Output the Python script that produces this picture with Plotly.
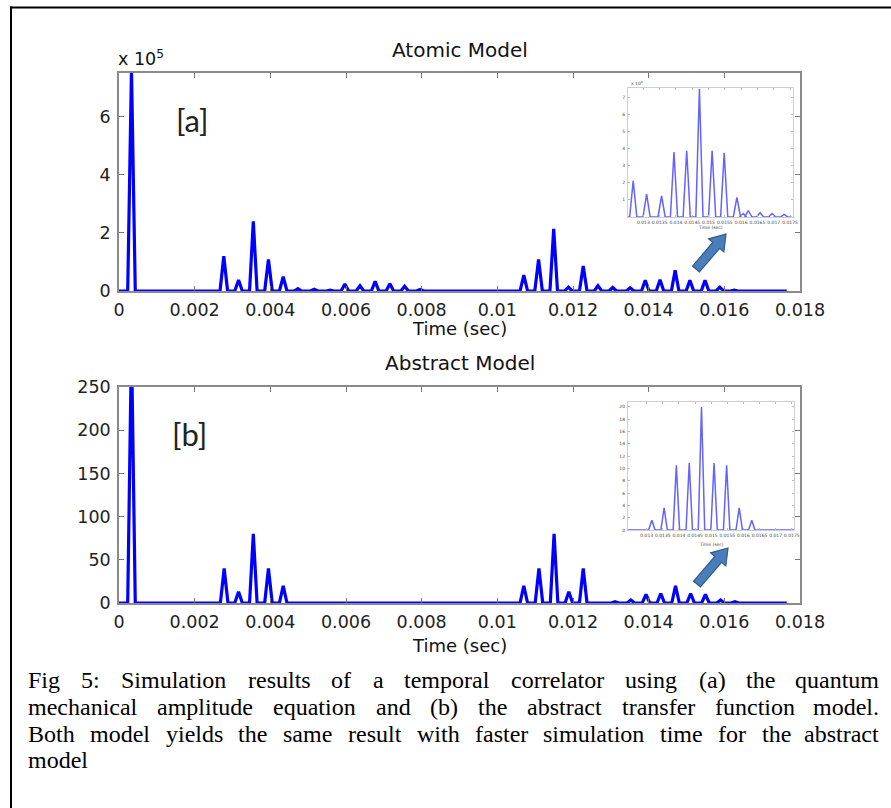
import plotly.graph_objects as go

# ---------------- data ----------------
atomic_peak_t = [0.00033, 0.00277, 0.00316, 0.00355, 0.00395, 0.00434, 0.00473, 0.00516,
                 0.00558, 0.00597, 0.00637, 0.00677, 0.00716, 0.00755, 0.00796,
                 0.01070, 0.01109, 0.01149, 0.01188, 0.01227, 0.01266, 0.01305, 0.01351,
                 0.01391, 0.01430, 0.01470, 0.01509, 0.01549, 0.01588, 0.01626, 0.01662,
                 0.01700, 0.01740]
atomic_peak_v = [7.6e5, 1.2e5, 0.38e5, 2.4e5, 1.09e5, 0.49e5, 0.08e5, 0.06e5,
                 0.03e5, 0.24e5, 0.18e5, 0.33e5, 0.25e5, 0.16e5, 0.05e5,
                 0.55e5, 1.09e5, 2.14e5, 0.13e5, 0.86e5, 0.18e5, 0.12e5, 0.11e5,
                 0.37e5, 0.39e5, 0.71e5, 0.37e5, 0.37e5, 0.13e5, 0.03e5, 0.02e5,
                 0.01e5, 0.01e5]

abstract_peak_t = [0.00033, 0.00278, 0.00316, 0.00355, 0.00395, 0.00434,
                   0.01070, 0.01110, 0.01150, 0.01189, 0.01227, 0.01311, 0.01353,
                   0.01393, 0.01432, 0.01471, 0.01511, 0.01550, 0.01590, 0.01628]
abstract_peak_v = [300, 40, 13, 80, 40, 20,
                   20, 40, 80, 13, 40, 1.5, 3.5,
                   10, 11, 20, 11, 10, 3.5, 1.5]

inset_a_t = [0.01269, 0.01310, 0.01356, 0.01394, 0.01433, 0.01472, 0.01511, 0.01548,
             0.01587, 0.01606, 0.01622, 0.01658, 0.01695, 0.01732]
inset_a_v = [2.12e4, 1.34e4, 1.23e4, 3.8e4, 3.88e4, 7.5e4, 3.88e4, 3.76e4,
             1.15e4, 0.2e4, 0.38e4, 0.25e4, 0.2e4, 0.15e4]

inset_b_t = [0.01316, 0.01354, 0.01392, 0.01432, 0.01470, 0.01509, 0.01548, 0.01587, 0.01626]
inset_b_v = [1.6, 3.6, 10.5, 10.9, 20, 10.9, 10.5, 3.6, 1.6]

main_x_ticks = [0, 0.002, 0.004, 0.006, 0.008, 0.010, 0.012, 0.014, 0.016, 0.018]
main_x_labels = ["0", "0.002", "0.004", "0.006", "0.008", "0.01", "0.012", "0.014", "0.016", "0.018"]
atomic_y_ticks = [0, 2e5, 4e5, 6e5]
atomic_y_labels = ["0", "2", "4", "6"]
abstract_y_ticks = [0, 50, 100, 150, 200, 250]
inset_x_ticks = [0.013, 0.0135, 0.014, 0.0145, 0.015, 0.0155, 0.016, 0.0165, 0.017, 0.0175]
inset_x_labels = ["0.013", "0.0135", "0.014", "0.0145", "0.015", "0.0155", "0.016", "0.0165", "0.017", "0.0175"]
inset_a_y_ticks = [1e4, 2e4, 3e4, 4e4, 5e4, 6e4, 7e4]
inset_a_y_labels = ["1", "2", "3", "4", "5", "6", "7"]
inset_b_y_ticks = [0, 2, 4, 6, 8, 10, 12, 14, 16, 18, 20]

caption_lines = [
    "Fig 5: Simulation results of a temporal correlator using (a) the quantum",
    "mechanical amplitude equation and (b) the abstract transfer function model.",
    "Both model yields the same result with faster simulation time for the abstract",
    "model",
]

# ---------------- helpers ----------------
W, H = 891, 808


def px(x):
    return x / W


def py(y):
    return 1 - y / H


def spikes(ts, vs, hw, t0, t1):
    xs, ys = [t0], [0]
    for t, v in zip(ts, vs):
        xs += [t - hw, t, t + hw]
        ys += [0, v, 0]
    xs.append(t1)
    ys.append(0)
    return xs, ys


fig = go.Figure()

xa, ya = spikes(atomic_peak_t, atomic_peak_v, 0.0001, 0.0, 0.01765)
fig.add_trace(go.Scatter(x=xa, y=ya, mode="lines", line=dict(color="#0000ff", width=3.2),
                         xaxis="x", yaxis="y", hoverinfo="skip"))
xb, yb = spikes(abstract_peak_t, abstract_peak_v, 0.0001, 0.0, 0.01765)
fig.add_trace(go.Scatter(x=xb, y=yb, mode="lines", line=dict(color="#0000ff", width=3.2),
                         xaxis="x2", yaxis="y2", hoverinfo="skip"))
xi, yi = spikes(inset_a_t, inset_a_v, 0.00011, 0.01253, 0.01755)
fig.add_trace(go.Scatter(x=xi, y=yi, mode="lines", line=dict(color="rgba(60,60,255,0.8)", width=1.5),
                         xaxis="x3", yaxis="y3", hoverinfo="skip"))
xj, yj = spikes(inset_b_t, inset_b_v, 0.0001, 0.01242, 0.01757)
fig.add_trace(go.Scatter(x=xj, y=yj, mode="lines", line=dict(color="rgba(60,60,255,0.8)", width=1.5),
                         xaxis="x4", yaxis="y4", hoverinfo="skip"))

tick_font = dict(family="DejaVu Sans", size=17.5, color="#222")
main_common = dict(ticks="inside", ticklen=5, tickcolor="#777", mirror="allticks",
                   showline=True, linecolor="#8a8a8a", linewidth=1.5, showgrid=False,
                   zeroline=False, tickfont=tick_font, automargin=False)
inset_common = dict(ticks="inside", ticklen=2, tickcolor="#bbb", mirror="allticks",
                    showline=True, linecolor="#cfcfcf", linewidth=1, showgrid=False,
                    zeroline=False, tickfont=dict(family="DejaVu Sans", size=4.5, color="#444"),
                    ticklabelstandoff=1, tickangle=0, automargin=False)

fig.update_layout(
    width=W, height=H, margin=dict(l=0, r=0, t=0, b=0, pad=0, autoexpand=False), autosize=False,
    paper_bgcolor="white", plot_bgcolor="white", showlegend=False,
    xaxis=dict(domain=[px(119), px(800)], anchor="y", range=[0, 0.018],
               tickvals=main_x_ticks, ticktext=main_x_labels, ticklabelstandoff=2, **main_common),
    yaxis=dict(domain=[py(291), py(73)], anchor="x", range=[0, 7.5e5],
               tickvals=atomic_y_ticks, ticktext=atomic_y_labels, ticklabelstandoff=3, **main_common),
    xaxis2=dict(domain=[px(119), px(800)], anchor="y2", range=[0, 0.018],
                tickvals=main_x_ticks, ticktext=main_x_labels, ticklabelstandoff=2, **main_common),
    yaxis2=dict(domain=[py(603), py(387)], anchor="x2", range=[0, 250],
                tickvals=abstract_y_ticks, ticklabelstandoff=3, **main_common),
    xaxis3=dict(domain=[px(628), px(793)], anchor="y3", range=[0.01253, 0.01759],
                tickvals=inset_x_ticks, ticktext=inset_x_labels, **inset_common),
    yaxis3=dict(domain=[py(217), py(88)], anchor="x3", range=[0, 7.55e4],
                tickvals=inset_a_y_ticks, ticktext=inset_a_y_labels, **inset_common),
    xaxis4=dict(domain=[px(628), px(794)], anchor="y4", range=[0.01242, 0.01757],
                tickvals=inset_x_ticks, ticktext=inset_x_labels, **inset_common),
    yaxis4=dict(domain=[py(530), py(402)], anchor="x4", range=[0, 20.8],
                tickvals=inset_b_y_ticks, **inset_common),
)

ann = []


def add_text(x, y, text, size, family="DejaVu Sans", xanchor="center", yanchor="middle", color="#111"):
    ann.append(dict(x=px(x), y=py(y), xref="paper", yref="paper", text=text, showarrow=False,
                    xanchor=xanchor, yanchor=yanchor, font=dict(family=family, size=size, color=color),
                    borderpad=0))


add_text(459.5, 50, "Atomic Model", 20)
add_text(459.5, 363, "Abstract Model", 20)
add_text(459.5, 328, "Time (sec)", 18)
add_text(459.5, 645, "Time (sec)", 18)
add_text(117, 70, "x 10<sup>5</sup>", 17.5, xanchor="left", yanchor="bottom")
add_text(192, 120, "[a]", 31, family="Lato", color="#222")
add_text(189, 434, "[b]", 31, family="Lato", color="#222")
add_text(630, 87, "x 10<sup>4</sup>", 4.5, xanchor="left", yanchor="bottom", color="#444")
add_text(710.5, 227, "Time (sec)", 4.5, color="#444")
add_text(711, 544, "Time (sec)", 4.5, color="#444")

# caption, justified word by word (Times metrics)
TW = {'a': 444, 'b': 500, 'c': 444, 'd': 500, 'e': 444, 'f': 333, 'g': 500, 'h': 500, 'i': 278,
      'j': 278, 'k': 500, 'l': 278, 'm': 778, 'n': 500, 'o': 500, 'p': 500, 'q': 500, 'r': 333,
      's': 389, 't': 278, 'u': 500, 'v': 500, 'w': 722, 'x': 500, 'y': 500, 'z': 444,
      'B': 667, 'F': 556, 'S': 556, ':': 278, '(': 333, ')': 333, '.': 250}
cap_size = 24
cap_left, cap_right = 27, 880
baselines = [688, 715, 742, 768]


def wwidth(w):
    return sum(TW.get(c, 500) for c in w) / 1000 * cap_size


for i, line in enumerate(caption_lines):
    yc = baselines[i] - 0.33 * cap_size
    words = line.split(" ")
    if i < 3:
        total = sum(wwidth(w) for w in words)
        gap = (cap_right - cap_left - total) / (len(words) - 1)
        x = cap_left
        for j, w in enumerate(words):
            if j == len(words) - 1:
                add_text(cap_right, yc, w, cap_size, family="Liberation Serif", xanchor="right", color="#000")
            else:
                add_text(x, yc, w, cap_size, family="Liberation Serif", xanchor="left", color="#000")
            x += wwidth(w) + gap
    else:
        add_text(cap_left, yc, line, cap_size, family="Liberation Serif", xanchor="left", color="#000")

fig.update_layout(annotations=ann)

# shapes: outer border (left and top sides visible) and block arrows
shapes = [
    dict(type="line", xref="paper", yref="paper", x0=px(11), x1=px(11), y0=0, y1=py(6.5),
         line=dict(color="#000", width=2)),
    dict(type="line", xref="paper", yref="paper", x0=px(10), x1=1, y0=py(7.5), y1=py(7.5),
         line=dict(color="#000", width=2)),
]


def block_arrow(tail, tip, shaft_hw=4.5, head_hw=10, head_len=15):
    dx, dy = tip[0] - tail[0], tip[1] - tail[1]
    L = (dx * dx + dy * dy) ** 0.5
    ux, uy = dx / L, dy / L
    nx, ny = -uy, ux
    bx, by = tip[0] - ux * head_len, tip[1] - uy * head_len
    pts = [
        (tail[0] + nx * shaft_hw, tail[1] + ny * shaft_hw),
        (bx + nx * shaft_hw, by + ny * shaft_hw),
        (bx + nx * head_hw, by + ny * head_hw),
        tip,
        (bx - nx * head_hw, by - ny * head_hw),
        (bx - nx * shaft_hw, by - ny * shaft_hw),
        (tail[0] - nx * shaft_hw, tail[1] - ny * shaft_hw),
    ]
    path = "M " + " L ".join(f"{px(a):.5f},{py(b):.5f}" for a, b in pts) + " Z"
    return dict(type="path", xref="paper", yref="paper", path=path, fillcolor="#4a7ebb",
                line=dict(color="#2f5a8f", width=1.2), layer="above")


shapes.append(block_arrow((696, 269), (726, 234)))
shapes.append(block_arrow((697, 584), (728, 548)))
fig.update_layout(shapes=shapes)

post = ("document.documentElement.style.margin='0';document.documentElement.style.padding='0';"
        "document.documentElement.style.overflow='hidden';"
        "document.body.style.margin='0';document.body.style.padding='0';document.body.style.overflow='hidden';")
fig.write_html("out.html", post_script=post, config={"responsive": False, "displayModeBar": False})
